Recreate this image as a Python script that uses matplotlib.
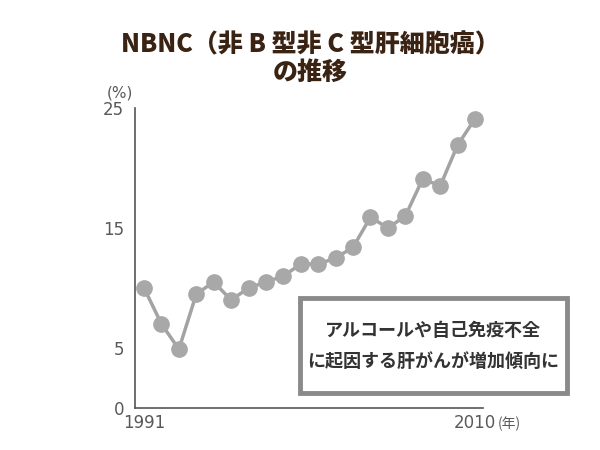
import matplotlib
matplotlib.use('Agg')
import matplotlib.pyplot as plt
from matplotlib.patches import Rectangle

plt.rcParams['font.family'] = ['Noto Sans CJK JP', 'DejaVu Sans']

# データ
years = list(range(1991, 2011))
rates = [10.0, 7.0, 4.9, 9.5, 10.5, 9.0, 10.0, 10.5, 11.0, 12.0,
         12.0, 12.5, 13.4, 15.9, 15.0, 16.0, 19.1, 18.5, 21.9, 24.1]
yticks = [0, 5, 15, 25]
xticks = [1991, 2010]

title_color = '#3b2314'
text_color = '#595959'
line_color = '#a3a3a3'

fig = plt.figure(figsize=(6, 4.5), dpi=100)
ax = fig.add_axes([0.225, 0.0933, 0.58, 0.6667])

ax.plot(years, rates, color=line_color, linewidth=2.5, marker='o',
        markersize=11, markerfacecolor='#a8a8a8', markeredgecolor='#a8a8a8')

ax.set_xlim(1990.48, 2010.46)
ax.set_ylim(0, 25)
ax.set_yticks(yticks)
ax.set_yticklabels([str(v) for v in yticks], family='DejaVu Sans')
ax.set_xticks(xticks)
ax.set_xticklabels(['1991', '2010'], family='DejaVu Sans')
ax.tick_params(length=0, labelsize=12, colors=text_color)
ax.tick_params(axis='y', pad=8)
ax.tick_params(axis='x', pad=4)
# 1991 のラベルは少し右寄せ
ax.get_xticklabels()[0].set_x(1991.3)

for s in ['top', 'right']:
    ax.spines[s].set_visible(False)
for s in ['left', 'bottom']:
    ax.spines[s].set_color('#555555')
    ax.spines[s].set_linewidth(1.2)

# 単位
fig.text(120 / 600, 1 - 93 / 450, '(%)', fontsize=11, color=text_color,
         ha='center', va='center', family='DejaVu Sans')
fig.text(498 / 600, 1 - 424 / 450, '(年)', fontsize=10, color=text_color,
         ha='left', va='center')

# タイトル
fig.text(310 / 600, 1 - 58 / 450, 'NBNC（非 B 型非 C 型肝細胞癌）\nの推移', fontsize=18,
         fontweight='heavy', color=title_color, ha='center', va='center',
         linespacing=1.05)

# 注釈ボックス
box = Rectangle((300 / 600, 1 - 393 / 450), 267 / 600, 95 / 450,
                transform=fig.transFigure, facecolor='white',
                edgecolor='#8a8a8a', linewidth=3.5, zorder=5)
fig.add_artist(box)
fig.text(433 / 600, 1 - 330 / 450, 'アルコールや自己免疫不全', fontsize=13,
         fontweight='bold', color='#333333', ha='center', va='center', zorder=6)
fig.text(433 / 600, 1 - 361 / 450, 'に起因する肝がんが増加傾向に', fontsize=13,
         fontweight='bold', color='#333333', ha='center', va='center', zorder=6)

fig.savefig('out.png', dpi=100)
